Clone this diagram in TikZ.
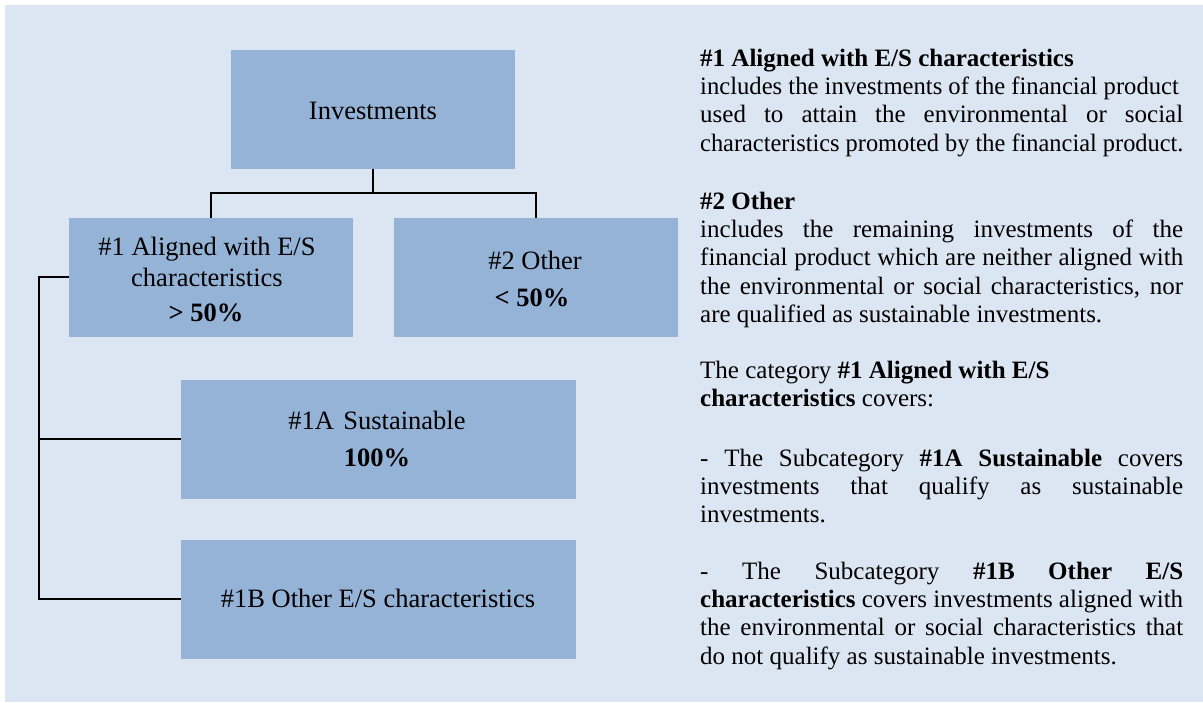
\documentclass[tikz,border=0pt]{standalone}
\usepackage{fontspec}
\usepackage{graphicx}
\setmainfont{Liberation Serif}
\definecolor{bgblue}{HTML}{DCE6F2}
\definecolor{boxblue}{HTML}{95B3D7}
\newcommand\JustLine[1]{\hbox to 483pt{#1}}
\newcommand\PlainLine[1]{\hbox{#1}}
\newcommand\SqueezeLine[2]{\hbox to 483pt{\scalebox{#1}[1]{#2}\hss}}
\newcommand\Para[1]{\vtop{\fontsize{25}{28.4}\selectfont\spaceskip=0.25em plus 1em minus 0.16em\relax\baselineskip=28.4pt\hbadness=10000 #1}}
\tikzset{
  catbox/.style={rectangle, fill=boxblue, draw=none, inner sep=0pt},
  boxtext/.style={anchor=base, inner sep=0pt, font=\fontsize{26.5}{30}\selectfont},
  conn/.style={line width=1.8pt, black, line join=miter},
  para/.style={anchor=base west, inner sep=0pt}
}
\begin{document}
\begin{tikzpicture}[x=1pt, y=-1pt]
\useasboundingbox (0,0) rectangle (1203,702);
\fill[bgblue] (5,5) rectangle (1203,702);

% boxes
\node[catbox, minimum width=284pt, minimum height=118.7pt] (inv) at (373,109.35) {};
\node[catbox, minimum width=284pt, minimum height=118.7pt] (a1) at (211,277.35) {};
\node[catbox, minimum width=284pt, minimum height=118.7pt] (o2) at (536,277.35) {};
\node[catbox, minimum width=395pt, minimum height=118.7pt] (s1a) at (378.5,439.35) {};
\node[catbox, minimum width=395pt, minimum height=118.7pt] (s1b) at (378.5,599.35) {};

% box texts
\node[boxtext] (tinv) at (373,119) {Investments};
\node[boxtext] (ta1a) at (207,255.7) {\#1 Aligned with E/S};
\node[boxtext] (ta1b) at (207,286.7) {characteristics};
\node[boxtext] (ta1c) at (206,321.7) {\textbf{> 50\%}};
\node[boxtext] (to2a) at (535,269.3) {\#2 Other};
\node[boxtext] (to2b) at (532,306) {\textbf{< 50\%}};
\node[boxtext] (ts1a) at (377,429) {\#1A\hspace{0.35em}Sustainable};
\node[boxtext] (ts1b) at (377,466.7) {\textbf{100\%}};
\node[boxtext] (ts1c) at (378,607.7) {\#1B Other E/S characteristics};

% connectors
\coordinate (j) at (373,193);
\draw[conn] (inv.south) -- (j);
\draw[conn] (a1.north) |- (j) -| (o2.north);
\coordinate (sp) at (39,277.35);
\draw[conn] (a1.west) -- (sp) |- (s1b.west);
\draw[conn] (s1a.west) -- (s1a.west -| sp);

% right-hand text
\node[para] (p1) at (700,66) {\Para{%
\PlainLine{\textbf{\#1 Aligned with E/S characteristics}}
\SqueezeLine{0.985}{includes the investments of the financial product}
\JustLine{used to attain the environmental or social}
\SqueezeLine{0.975}{characteristics promoted by the financial product.}
}};
\node[para] (p2) at (700,209) {\Para{%
\PlainLine{\textbf{\#2 Other}}
\JustLine{includes the remaining investments of the}
\JustLine{financial product which are neither aligned with}
\JustLine{the environmental or social characteristics, nor}
\PlainLine{are qualified as sustainable investments.}
}};
\node[para] (p3) at (700,378) {\Para{%
\PlainLine{The category \textbf{\#1 Aligned with E/S}}
\PlainLine{\textbf{characteristics} covers:}
}};
\node[para] (p4) at (700,466) {\Para{%
\JustLine{- The Subcategory \textbf{\#1A Sustainable} covers}
\JustLine{investments that qualify as sustainable}
\PlainLine{investments.}
}};
\node[para] (p5) at (700,579) {\Para{%
\JustLine{- The Subcategory \textbf{\#1B Other E/S}}
\JustLine{\textbf{characteristics} covers investments aligned with}
\JustLine{the environmental or social characteristics that}
\PlainLine{do not qualify as sustainable investments.}
}};
\end{tikzpicture}
\end{document}
